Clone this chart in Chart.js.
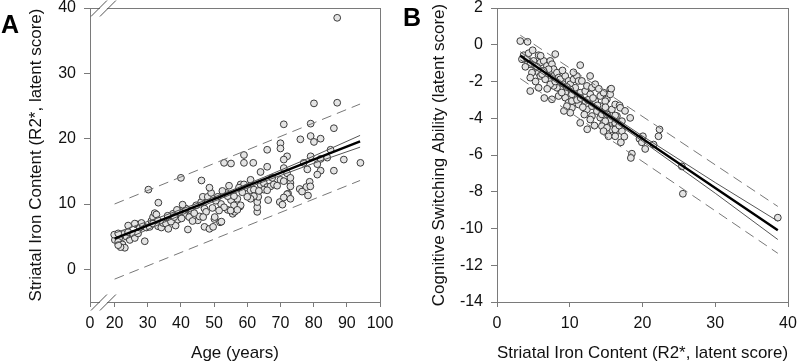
<!DOCTYPE html>
<html>
<head>
<meta charset="utf-8">
<script src="https://cdn.jsdelivr.net/npm/chart.js@4.4.1/dist/chart.umd.min.js"></script>
<style>
  body { margin: 0; background: #fff; }
  #wrap { position: relative; width: 800px; height: 364px; }
  canvas { position: absolute; top: 0; }
  .tag { position: absolute; font-family: "Liberation Sans", Arial, sans-serif; font-weight: bold; font-size: 25px; line-height: 1; color: #000; }
</style>
</head>
<body>
<div id="wrap">
  <canvas id="chartA" width="400" height="364" style="left:0"></canvas>
  <canvas id="chartB" width="400" height="364" style="left:400px"></canvas>
  <div class="tag" style="left:1px;top:12px">A</div>
  <div class="tag" style="left:403px;top:5px">B</div>
</div>
<script>
// Panel A: age vs striatal iron
const ageA = [20.6,20.1,21.4,21.1,22.4,23.1,21.8,22.6,23.6,24.1,24.6,25.6,26.6,26.1,27.1,27.6,28.6,28.1,29.1,29.6,
  30.6,31.1,31.6,32.1,32.6,33.1,31.6,33.1,34.1,34.6,36.6,37.6,38.4,39.1,40.1,41.1,42.1,43.1,44.6,45.1,
  45.6,46.1,46.6,47.1,47.6,48.1,49.1,48.6,47.1,48.6,50.1,51.1,51.8,52.1,53.6,54.1,55.1,55.6,54.1,30.2,
  33.2,40.0,46.2,53.0,55.1,19.9,21.1,21.1,24.1,26.1,40.2,35.5,36.0,37.0,38.0,39.5,41.5,42.5,43.5,44.0,
  40.5,36.2,38.8,49.7,52.2,50.2,46.7,56.2,57.8,63.0,63.0,63.0,63.3,66.3,69.8,70.6,72.3,75.8,77.8,78.3,
  78.8,80.1,87.1,71.0,79.1,86.1,76.0,79.1,80.1,82.1,70.0,70.0,66.0,59.0,85.1,72.0,71.0,79.1,82.1,84.1,
  89.1,94.1,77.0,81.1,82.1,81.1,86.1,78.1,71.0,72.0,73.0,66.0,64.0,61.8,59.0,61.0,58.0,59.0,60.0,61.0,
  62.0,64.0,65.0,66.0,67.0,68.0,65.0,66.0,70.0,71.0,73.0,73.0,72.0,71.0,73.0,76.5,79.0,62.0,61.0,60.0,
  57.0,56.0,56.0,55.0,58.0,57.0,87.1,52.5,50.5,53.0,57.5,58.5,54.5,49.5,51.5,63.5,67.5,69.0];
const ironA = [5.0,4.5,4.8,4.2,3.8,3.3,3.4,5.4,5.0,5.7,4.5,5.4,6.9,4.8,5.5,6.4,6.6,7.1,4.3,6.4,
  6.5,7.4,8.0,8.6,8.4,7.5,7.0,6.6,6.4,7.1,7.7,8.5,6.7,7.6,8.5,8.3,6.1,9.0,9.8,7.5,
  8.1,10.3,11.1,9.3,8.8,11.1,11.7,12.5,6.5,6.2,7.7,11.1,7.2,10.0,11.7,9.1,10.6,8.5,11.2,12.2,
  10.2,14.0,13.6,16.3,16.2,5.3,5.5,3.7,6.7,7.0,7.8,7.0,8.2,7.3,8.0,8.8,9.3,8.0,7.4,8.6,
  9.9,6.2,9.1,6.5,7.3,8.0,8.0,8.8,9.6,8.8,9.5,10.3,11.1,10.6,10.3,9.9,11.6,12.3,12.6,11.3,
  13.4,25.4,25.5,22.2,22.3,21.6,19.9,20.4,19.5,20.0,19.3,18.5,18.3,17.5,18.3,17.3,16.8,17.3,16.9,17.1,
  16.8,16.3,16.3,16.1,15.1,14.5,15.1,15.3,15.5,14.7,13.2,15.7,14.9,16.3,16.3,13.7,13.0,13.0,12.5,12.1,
  12.2,13.0,13.2,12.6,12.7,13.0,12.2,12.1,13.7,13.5,14.0,12.7,11.5,11.0,10.8,11.9,12.7,11.2,10.8,11.1,
  10.8,11.2,9.8,9.0,9.8,9.1,38.5,12.0,10.5,9.5,12.5,11.8,12.8,9.4,9.0,12.0,14.0,12.8];

const fitAgeA = [20, 35, 50, 57, 65, 80, 94];
const fitIronA = [4.7, 7.72, 10.74, 12.15, 13.76, 16.78, 19.6];
const ciUpA = [5.55, 8.22, 11.06, 12.45, 14.09, 17.33, 20.5];
const ciLowA = [3.85, 7.22, 10.42, 11.85, 13.43, 16.23, 18.7];
const predAgeA = [20, 94];
const predUpA = [10.0, 25.3];
const predLowA = [-1.5, 13.6];

const ageTicks = [20, 30, 40, 50, 60, 70, 80, 90, 100];
const ironTicks = [0, 10, 20, 30, 40];
const ageAxisStart = 12.6;      // axis is broken: left edge is labelled "0"
const ageAxisStartLabel = '0';
const ageBreak = [15.3, 18.0];

// Panel B: striatal iron vs switching ability
const ironB = [3.2,4.2,3.66,3.43,4.12,4.35,5.03,5.72,4.57,5.26,5.95,6.41,6.86,7.32,7.55,8.01,7.78,7.09,6.41,5.72,
  4.80,4.57,5.95,6.86,7.32,6.63,7.78,8.24,8.47,8.70,9.38,9.15,9.84,10.07,10.53,11.44,10.98,11.21,11.67,10.76,
  10.07,9.38,8.70,8.24,7.78,7.32,5.72,4.57,7.55,8.47,9.38,9.84,10.30,10.76,11.44,12.13,12.36,13.05,13.50,12.82,
  12.13,11.21,10.30,9.61,10.07,11.44,12.36,13.05,13.50,14.19,14.65,15.10,15.56,15.56,14.19,13.73,13.05,12.82,14.19,14.65,
  15.10,14.42,15.10,15.79,16.25,16.48,16.25,16.48,15.79,15.33,16.25,15.70,14.88,16.85,16.94,15.11,16.25,15.56,14.88,14.42,
  15.11,16.25,17.17,16.25,17.17,18.31,14.65,20.05,19.59,19.91,20.37,21.52,22.34,22.20,17.03,18.54,18.40,25.41,25.55,38.6,
  5.5,6.2,6.9,8.9,9.6,10.3,11.0,11.8,12.5,13.2,13.8,12.0,11.5,8.0,9.0,10.5,6.0,4.9,3.9,5.3,
  6.5,9.2,12.8,14.0,14.9,16.8,17.6,13.4,12.4,17.5];
const switchB = [0.2,0.16,-0.57,-0.79,-0.75,-0.46,-0.88,-0.57,-1.06,-1.15,-0.97,-0.88,-1.15,-0.88,-1.06,-0.51,-1.33,-1.33,-1.42,-1.52,
  -1.52,-1.79,-1.70,-1.70,-1.88,-1.88,-1.70,-1.52,-1.79,-1.88,-1.70,-2.15,-1.97,-2.15,-1.88,-1.11,-1.70,-1.97,-1.97,-2.34,
  -2.43,-2.61,-2.43,-2.34,-2.24,-2.15,-2.34,-2.52,-2.97,-2.79,-2.88,-3.15,-3.06,-2.79,-2.61,-2.52,-2.24,-2.34,-2.15,-2.70,
  -3.06,-3.25,-3.43,-3.34,-3.70,-4.25,-3.52,-3.34,-3.06,-2.79,-2.61,-2.97,-2.43,-2.70,-3.34,-3.61,-3.88,-4.07,-3.97,-4.25,
  -4.43,-3.79,-3.70,-3.52,-3.25,-3.88,-4.34,-4.70,-4.61,-4.98,-4.98,-2.39,-3.07,-3.30,-3.43,-3.79,-3.85,-4.07,-4.16,-4.43,
  -4.52,-4.25,-4.16,-4.61,-4.70,-3.98,-4.70,-4.98,-5.12,-5.31,-5.67,-5.43,-4.61,-4.98,-5.31,-5.93,-6.16,-6.62,-8.11,-9.41,
  -1.2,-1.6,-2.4,-2.6,-2.3,-2.7,-3.0,-3.4,-3.0,-2.9,-3.3,-3.8,-2.9,-2.0,-1.4,-1.5,-0.6,-0.3,-1.2,-2.0,
  -2.9,-3.6,-1.7,-2.4,-3.4,-4.4,-3.6,-4.4,-4.6,-5.0];

const fitIronB = [3.2, 8, 12, 20, 30, 38.6];
const fitSwitchB = [-0.6, -1.888, -2.962, -5.11, -7.79, -10.1];
const ciUpB = [-0.38, -1.77, -2.86, -4.97, -7.5, -9.6];
const ciLowB = [-0.82, -2.01, -3.06, -5.25, -8.08, -10.6];
const predIronB = [3.2, 38.6];
const predUpB = [0.52, -8.8];
const predLowB = [-1.84, -11.35];

const ironBTicks = [0, 10, 20, 30, 40];
const switchTicks = [-14, -12, -10, -8, -6, -4, -2, 0, 2];

const GRAY = '#7a7a7a';
const FONT = '"Liberation Sans", Arial, sans-serif';

function pts(xs, ys) {
    return xs.map((x, i) => ({x: x, y: ys[i]}));
}

function lineSet(xs, ys, width, color, dash, order) {
    return {
        type: 'line', data: pts(xs, ys), showLine: true, pointRadius: 0,
        borderColor: color, borderWidth: width, borderDash: dash || [],
        fill: false, tension: 0, order: order
    };
}

const framePlugin = {
    id: 'frame',
    beforeDatasetsDraw(chart) {
        const a = chart.chartArea, ctx = chart.ctx;
        ctx.save();
        ctx.strokeStyle = GRAY;
        ctx.lineWidth = 1;
        ctx.strokeRect(Math.round(a.left) + 0.5, Math.round(a.top) + 0.5,
            Math.round(a.right - a.left), Math.round(a.bottom - a.top));
        ctx.restore();
    }
};

const breakPlugin = {
    id: 'axisBreak',
    afterDraw(chart) {
        if (!chart.options.plugins.axisBreak) return;
        const a = chart.chartArea, ctx = chart.ctx, xs = chart.scales.x;
        const px = ageBreak.map(v => xs.getPixelForValue(v));
        ctx.save();
        for (const yy of [a.top + 0.5, a.bottom + 0.5]) {
            ctx.fillStyle = '#fff';
            ctx.fillRect(px[0] + 1, yy - 1.5, px[1] - px[0] - 2, 3);
            ctx.strokeStyle = '#555';
            ctx.lineWidth = 1;
            ctx.beginPath();
            for (const x of px) {
                ctx.moveTo(x - 8, yy + 8);
                ctx.lineTo(x + 8, yy - 8);
            }
            ctx.stroke();
        }
        ctx.restore();
    }
};

function axis(min, max, tickVals, title, fit, extra) {
    const o = {
        type: 'linear', min: min, max: max,
        afterBuildTicks: s => { s.ticks = tickVals.map(v => ({value: v})); },
        ticks: { autoSkip: false, maxRotation: 0, color: '#111', font: {family: FONT, size: 16}, padding: 7 },
        grid: { display: true, drawOnChartArea: false, drawTicks: true, tickLength: 6, color: GRAY },
        border: { display: true, color: GRAY, width: 1 },
        title: { display: true, text: title, color: '#111', font: {family: FONT, size: 17}, padding: {top: 0, bottom: 0} },
        afterFit: fit
    };
    return Object.assign(o, extra || {});
}

function makeChart(id, scatter, lines, xAxis, yAxis, padRight, isBroken) {
    return new Chart(document.getElementById(id), {
        type: 'scatter',
        data: {
            datasets: lines.concat([{
                data: scatter, pointRadius: 3.4, pointBorderWidth: 1,
                pointBackgroundColor: '#e4e4e4', pointBorderColor: '#3a3a3a', order: 5
            }])
        },
        options: {
            responsive: false, animation: false, devicePixelRatio: 1,
            layout: { padding: {left: 0, right: padRight, top: 8, bottom: 0} },
            scales: { x: xAxis, y: yAxis },
            plugins: { legend: {display: false}, tooltip: {enabled: false}, axisBreak: isBroken }
        },
        plugins: [framePlugin, breakPlugin]
    });
}

// chart A
let xA = axis(ageAxisStart, 100, [ageAxisStart].concat(ageTicks), 'Age (years)',
    s => { s.height = 62; s.paddingLeft = 0; s.paddingRight = 0; });
xA.ticks.callback = v => v === ageAxisStart ? ageAxisStartLabel : v;
xA.grid.tickLength = 5;
let yA = axis(-5, 40, ironTicks, 'Striatal Iron Content (R2*, latent score)',
    s => { s.width = 90; s.paddingTop = 0; s.paddingBottom = 0; });
yA.title.padding = {top: 26, bottom: 0};
yA.ticks.padding = 8;

makeChart('chartA', pts(ageA, ironA), [
    lineSet(fitAgeA, fitIronA, 2.4, '#000', null, 0),
    lineSet(fitAgeA, ciUpA, 1, '#555', null, 1),
    lineSet(fitAgeA, ciLowA, 1, '#555', null, 1),
    lineSet(predAgeA, predUpA, 1, '#777', [10, 6], 2),
    lineSet(predAgeA, predLowA, 1, '#777', [10, 6], 2)
], xA, yA, 20, true);

// chart B
let xB = axis(0, 40, ironBTicks, 'Striatal Iron Content (R2*, latent score)',
    s => { s.height = 62; s.paddingLeft = 0; s.paddingRight = 0; });
xB.grid.tickLength = 5;
let yB = axis(-14, 2, switchTicks, 'Cognitive Switching Ability (latent score)',
    s => { s.width = 97; s.paddingTop = 0; s.paddingBottom = 0; });
yB.title.padding = {top: 29, bottom: 0};
yB.ticks.padding = 8;

makeChart('chartB', pts(ironB, switchB), [
    lineSet(fitIronB, fitSwitchB, 2.4, '#000', null, 0),
    lineSet(fitIronB, ciUpB, 1, '#555', null, 1),
    lineSet(fitIronB, ciLowB, 1, '#555', null, 1),
    lineSet(predIronB, predUpB, 1, '#777', [10, 6], 2),
    lineSet(predIronB, predLowB, 1, '#777', [10, 6], 2)
], xB, yB, 12, false);
</script>
</body>
</html>
